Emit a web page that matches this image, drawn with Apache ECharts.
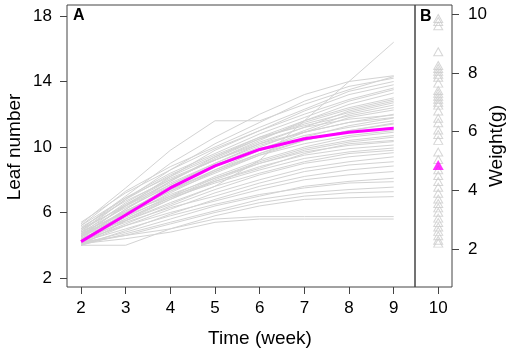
<!DOCTYPE html>
<html>
<head>
<meta charset="utf-8">
<script src="https://cdn.jsdelivr.net/npm/echarts@6/dist/echarts.min.js"></script>
<style>
  html, body { margin: 0; padding: 0; background: #fff; }
  #chart { width: 510px; height: 353px; }
</style>
</head>
<body>
<div id="chart"></div>
<script>
// week of measurement
const weeks = [2, 3, 4, 5, 6, 7, 8, 9];

// leaf number of each plant, one row per plant
const plantLeaves = [
  [4.6, 5.5, 6.5, 7.6, 9.2, 11.6, 14.0, 16.4],
  [5.3, 7.5, 9.8, 11.6, 11.6, 12.6, 13.5, 14.3],
  [5.0, 7.0, 9.0, 10.6, 12.0, 13.2, 14.0, 14.35],
  [4.8, 6.8, 8.6, 10.2, 11.5, 12.8, 13.7, 14.2],
  [5.2, 7.3, 8.8, 10.0, 11.2, 12.3, 13.4, 14.0],
  [4.6, 6.4, 8.2, 9.8, 11.0, 12.2, 13.2, 13.8],
  [5.0, 6.9, 8.4, 9.6, 10.8, 11.8, 12.8, 13.5],
  [4.4, 6.2, 7.9, 9.4, 10.6, 11.6, 12.6, 13.3],
  [4.7, 6.6, 8.1, 9.2, 10.4, 11.6, 12.4, 13.0],
  [4.9, 6.5, 7.8, 9.0, 10.2, 11.2, 12.2, 12.8],
  [4.3, 6.0, 7.6, 8.9, 10.0, 11.0, 12.0, 12.56],
  [4.5, 6.1, 7.4, 8.6, 9.8, 10.9, 11.8, 12.26],
  [5.1, 6.7, 8.0, 9.2, 10.3, 11.2, 11.7, 11.95],
  [4.2, 5.8, 7.2, 8.5, 9.6, 10.6, 11.3, 11.77],
  [4.6, 6.0, 7.3, 8.4, 9.5, 10.4, 11.0, 11.46],
  [4.8, 6.3, 7.6, 8.8, 9.8, 10.5, 10.9, 11.2],
  [4.4, 5.7, 7.0, 8.2, 9.2, 10.0, 10.6, 10.9],
  [4.0, 5.5, 6.8, 8.0, 9.0, 9.8, 10.3, 10.6],
  [4.5, 5.9, 7.1, 8.1, 9.0, 9.7, 10.1, 10.33],
  [4.3, 5.6, 6.8, 7.9, 8.8, 9.5, 9.9, 10.12],
  [4.7, 5.8, 6.9, 7.8, 8.6, 9.3, 9.7, 9.94],
  [4.2, 5.3, 6.4, 7.4, 8.3, 9.0, 9.4, 9.65],
  [4.1, 5.2, 6.2, 7.2, 8.0, 8.7, 9.1, 9.4],
  [4.4, 5.4, 6.3, 7.0, 7.8, 8.5, 8.9, 9.1],
  [4.0, 4.9, 5.9, 6.8, 7.6, 8.2, 8.6, 8.84],
  [4.3, 5.2, 6.0, 6.7, 7.4, 8.0, 8.3, 8.5],
  [4.1, 4.8, 5.6, 6.4, 7.0, 7.6, 7.9, 8.09],
  [4.2, 5.0, 5.8, 6.5, 7.1, 7.5, 7.8, 7.88],
  [4.0, 4.7, 5.4, 6.1, 6.8, 7.2, 7.4, 7.55],
  [4.1, 4.6, 5.3, 6.0, 6.6, 7.0, 7.2, 7.27],
  [4.0, 4.0, 5.0, 5.8, 6.4, 6.8, 6.9, 6.97],
  [4.2, 4.6, 5.0, 5.6, 5.75, 5.75, 5.75, 5.75],
  [4.1, 4.4, 4.8, 5.4, 5.6, 5.6, 5.6, 5.6],
  [5.4, 7.2, 8.6, 9.9, 11.0, 12.0, 12.9, 13.6],
  [4.6, 6.4, 7.9, 9.3, 10.5, 11.5, 12.3, 12.9],
  [4.9, 6.8, 8.3, 9.5, 10.6, 11.3, 11.9, 12.4],
  [4.5, 6.2, 7.7, 9.0, 10.1, 10.9, 11.5, 12.0],
  [5.0, 6.4, 7.7, 8.9, 9.9, 10.7, 11.2, 11.6],
  [4.3, 5.9, 7.3, 8.6, 9.6, 10.4, 11.0, 11.4],
  [4.7, 6.1, 7.4, 8.5, 9.5, 10.2, 10.7, 11.0],
  [4.4, 5.6, 6.9, 8.1, 9.1, 9.9, 10.4, 10.7],
  [4.8, 6.0, 7.0, 7.9, 8.7, 9.6, 10.2, 10.4],
  [4.2, 5.5, 6.6, 7.6, 8.4, 9.1, 9.6, 9.8],
  [5.2, 6.9, 8.2, 9.4, 10.5, 11.4, 12.1, 12.7],
  [4.5, 6.5, 8.0, 9.2, 10.2, 10.9, 11.5, 11.8]
];

// mean leaf number (magenta line)
const meanLeaves = [4.22, 5.85, 7.5, 8.85, 9.85, 10.5, 10.9, 11.15];

// fresh weight per plant (panel B, open triangles) and the mean
const weights = [
  9.85, 9.75, 9.6, 8.72, 8.25, 8.15, 8.05, 7.95, 7.85, 7.65,
  7.4, 7.3, 7.2, 7.1, 7.0, 6.9, 6.7, 6.45, 6.3, 6.05,
  5.9, 5.7, 5.3, 5.05, 4.7, 4.5, 4.3, 4.1, 3.9, 3.7,
  3.55, 3.4, 3.25, 3.05, 2.9, 2.75, 2.6, 2.45, 2.3, 2.2
];
const meanWeight = 4.86;
const weightWeek = 10;

const timeTicks = [2, 3, 4, 5, 6, 7, 8, 9];
const leafTicks = [2, 6, 10, 14, 18];
const weightTicks = [2, 4, 6, 8, 10];

const FONT = 'Liberation Sans, Arial, Helvetica, sans-serif';
const FRAME = '#444';

const chart = echarts.init(document.getElementById('chart'), null, { renderer: 'canvas' });

const tickStyle = { show: true, inside: false, length: 7, lineStyle: { color: FRAME, width: 1 } };
const labelStyle = { color: '#000', fontSize: 17, fontFamily: FONT };

const lineSeries = plantLeaves.map((row, i) => ({
  name: 'plant' + i,
  type: 'line',
  xAxisIndex: 0,
  yAxisIndex: 0,
  data: row.map((v, j) => [weeks[j], v]),
  symbol: 'none',
  silent: true,
  lineStyle: { color: '#d3d3d3', width: 1 },
  z: 2
}));

const option = {
  backgroundColor: '#fff',
  animation: false,
  grid: [
    { left: 67, top: 5, width: 348, height: 282, show: true, borderColor: FRAME, borderWidth: 1, backgroundColor: 'transparent' },
    { left: 415, top: 5, width: 37, height: 282, show: true, borderColor: FRAME, borderWidth: 1, backgroundColor: 'transparent' }
  ],
  xAxis: [
    {
      type: 'value', gridIndex: 0, min: 1.686, max: 9.477,
      axisLine: { show: false },
      axisTick: Object.assign({ customValues: timeTicks }, tickStyle),
      axisLabel: Object.assign({ customValues: timeTicks, margin: 13 }, labelStyle),
      splitLine: { show: false }
    },
    {
      type: 'value', gridIndex: 1, min: 9.477, max: 10.31,
      axisLine: { show: false },
      axisTick: Object.assign({ customValues: [weightWeek] }, tickStyle),
      axisLabel: Object.assign({ customValues: [weightWeek], margin: 13 }, labelStyle),
      splitLine: { show: false }
    }
  ],
  yAxis: [
    {
      type: 'value', gridIndex: 0, min: 1.45, max: 18.67, position: 'left',
      axisLine: { show: false },
      axisTick: Object.assign({ customValues: leafTicks }, tickStyle),
      axisLabel: Object.assign({ customValues: leafTicks, margin: 15 }, labelStyle),
      splitLine: { show: false }
    },
    {
      type: 'value', gridIndex: 1, min: 0.705, max: 10.31, position: 'right',
      axisLine: { show: false },
      axisTick: Object.assign({ customValues: weightTicks }, tickStyle),
      axisLabel: Object.assign({ customValues: weightTicks, margin: 16 }, labelStyle),
      splitLine: { show: false }
    }
  ],
  graphic: [
    { type: 'text', left: 73, top: 8, style: { text: 'A', font: 'bold 16px ' + FONT, fill: '#000' } },
    { type: 'text', left: 420, top: 9, style: { text: 'B', font: 'bold 16px ' + FONT, fill: '#000' } },
    { type: 'text', x: 260, y: 339, style: { text: 'Time (week)', font: '19px ' + FONT, fill: '#000', align: 'center', verticalAlign: 'middle' } },
    { type: 'text', x: 15, y: 147, rotation: Math.PI / 2, style: { text: 'Leaf number', font: '19px ' + FONT, fill: '#000', align: 'center', verticalAlign: 'middle' } },
    { type: 'text', x: 497, y: 146, rotation: Math.PI / 2, style: { text: 'Weight(g)', font: '19px ' + FONT, fill: '#000', align: 'center', verticalAlign: 'middle' } }
  ],
  series: lineSeries.concat([
    {
      name: 'mean',
      type: 'line',
      xAxisIndex: 0,
      yAxisIndex: 0,
      data: meanLeaves.map((v, j) => [weeks[j], v]),
      symbol: 'none',
      lineStyle: { color: '#ff00ff', width: 3 },
      z: 5
    },
    {
      name: 'weight',
      type: 'scatter',
      xAxisIndex: 1,
      yAxisIndex: 1,
      data: weights.map(w => [weightWeek, w]),
      symbol: 'triangle',
      symbolSize: [9, 8],
      itemStyle: { color: 'rgba(0,0,0,0)', borderColor: '#cccccc', borderWidth: 1 },
      z: 3
    },
    {
      name: 'meanWeight',
      type: 'scatter',
      xAxisIndex: 1,
      yAxisIndex: 1,
      data: [[weightWeek, meanWeight]],
      symbol: 'triangle',
      symbolSize: [11, 10],
      itemStyle: { color: '#ff00ff' },
      z: 6
    }
  ])
};

chart.setOption(option);
</script>
</body>
</html>
